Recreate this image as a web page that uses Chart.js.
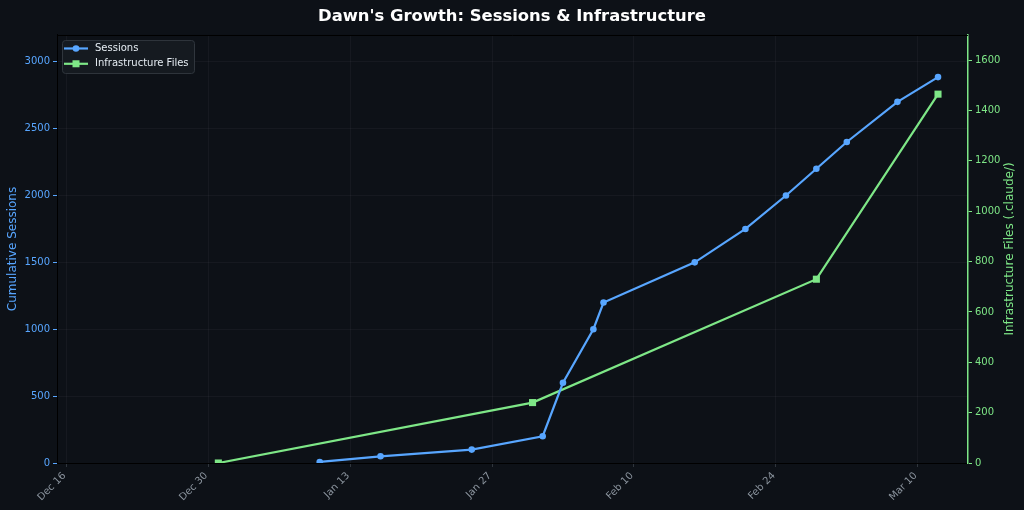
<!DOCTYPE html>
<html>
<head>
<meta charset="utf-8">
<script src="https://cdn.jsdelivr.net/npm/chart.js@4/dist/chart.umd.min.js"></script>
<style>
  html, body { margin: 0; padding: 0; background: #0d1117; }
  #wrap { width: 1024px; height: 510px; }
</style>
</head>
<body>
<div id="wrap"><canvas id="c" width="1024" height="510"></canvas></div>
<script>
// ---- data ----
const sessionDates = ['2026-01-10','2026-01-16','2026-01-25','2026-02-01','2026-02-03','2026-02-06','2026-02-07','2026-02-16','2026-02-21','2026-02-25','2026-02-28','2026-03-03','2026-03-08','2026-03-12'];
const sessionValues = [8, 50, 100, 200, 600, 1000, 1200, 1500, 1750, 2000, 2200, 2400, 2700, 2885];
const infraDates = ['2025-12-31','2026-01-31','2026-02-28','2026-03-12'];
const infraValues = [0, 240, 730, 1465];
const tickDates = ['2025-12-16','2025-12-30','2026-01-13','2026-01-27','2026-02-10','2026-02-24','2026-03-10'];
const tickLabels = ['Dec 16','Dec 30','Jan 13','Jan 27','Feb 10','Feb 24','Mar 10'];
const sessionTicks = [0, 500, 1000, 1500, 2000, 2500, 3000];
const infraTicks = [0, 200, 400, 600, 800, 1000, 1200, 1400, 1600];
const xRangeDates = ['2025-12-15T02:00','2026-03-14T23:00'];

// ---- helpers ----
const origin = Date.parse('2025-12-16T00:00:00Z');
function dayOf(s) {
  const iso = s.length === 10 ? s + 'T00:00:00Z' : s + ':00Z';
  return (Date.parse(iso) - origin) / 86400000;
}
const tickDays = tickDates.map(dayOf);

const BLUE = '#58a6ff';
const GREEN = '#7ee787';
const GRID = 'rgba(139,148,158,0.07)';
const FONT = "'DejaVu Sans', sans-serif";

Chart.defaults.font.family = FONT;

const extras = {
  id: 'extras',
  afterDraw(chart) {
    const {ctx, chartArea: a} = chart;
    ctx.save();
    // top spine
    ctx.strokeStyle = '#000000';
    ctx.lineWidth = 1;
    ctx.beginPath();
    ctx.moveTo(a.left, a.top + 0.5);
    ctx.lineTo(a.right, a.top + 0.5);
    ctx.stroke();
    // right axis title (reads bottom-to-top)
    ctx.translate(1010, (a.top + a.bottom) / 2);
    ctx.rotate(-Math.PI / 2);
    ctx.fillStyle = GREEN;
    ctx.font = "12px " + FONT;
    ctx.textAlign = 'center';
    ctx.textBaseline = 'middle';
    ctx.fillText('Infrastructure Files (.claude/)', 0, 0);
    ctx.restore();

    // legend
    const x0 = a.left + 5, y0 = a.top + 5, w = 132, h = 33;
    ctx.save();
    ctx.beginPath();
    if (ctx.roundRect) ctx.roundRect(x0 + 0.5, y0 + 0.5, w, h, 3); else ctx.rect(x0 + 0.5, y0 + 0.5, w, h);
    ctx.fillStyle = 'rgba(22,27,34,0.92)';
    ctx.fill();
    ctx.strokeStyle = '#30363d';
    ctx.lineWidth = 1;
    ctx.stroke();
    chart.data.datasets.forEach((ds, i) => {
      const y = y0 + 8.5 + i * 15.3;
      ctx.strokeStyle = ds.borderColor;
      ctx.lineWidth = 2.2;
      ctx.beginPath();
      ctx.moveTo(x0 + 2, y);
      ctx.lineTo(x0 + 26, y);
      ctx.stroke();
      ctx.fillStyle = ds.borderColor;
      if (ds.pointStyle === 'rect') {
        ctx.fillRect(x0 + 14 - 3.5, y - 3.5, 7, 7);
      } else {
        ctx.beginPath();
        ctx.arc(x0 + 14, y, 3.3, 0, Math.PI * 2);
        ctx.fill();
      }
      ctx.fillStyle = '#e6edf3';
      ctx.font = "10px " + FONT;
      ctx.textBaseline = 'middle';
      ctx.textAlign = 'left';
      ctx.fillText(ds.label, x0 + 33, y);
    });
    ctx.restore();
  }
};

new Chart(document.getElementById('c'), {
  type: 'line',
  data: {
    datasets: [
      {
        label: 'Sessions',
        data: sessionDates.map((d, i) => ({x: dayOf(d), y: sessionValues[i]})),
        borderColor: BLUE,
        backgroundColor: BLUE,
        borderWidth: 2.2,
        pointStyle: 'circle',
        pointRadius: 3.3,
        pointBorderWidth: 0,
        pointHoverRadius: 3.3,
        yAxisID: 'y',
        tension: 0
      },
      {
        label: 'Infrastructure Files',
        data: infraDates.map((d, i) => ({x: dayOf(d), y: infraValues[i]})),
        borderColor: GREEN,
        backgroundColor: GREEN,
        borderWidth: 2.2,
        pointStyle: 'rect',
        pointRadius: 5,
        pointBorderWidth: 0,
        pointHoverRadius: 5,
        yAxisID: 'y1',
        tension: 0
      }
    ]
  },
  options: {
    responsive: false,
    animation: false,
    devicePixelRatio: 1,
    layout: { padding: 0 },
    plugins: {
      legend: { display: false },
      tooltip: { enabled: false },
      title: {
        display: true,
        text: "Dawn's Growth: Sessions & Infrastructure",
        color: '#ffffff',
        font: { size: 16.4, weight: 'bold' },
        padding: { top: 7, bottom: 8.3 }
      }
    },
    scales: {
      x: {
        type: 'linear',
        min: dayOf(xRangeDates[0]),
        max: dayOf(xRangeDates[1]),
        afterBuildTicks(scale) { scale.ticks = tickDays.map(v => ({value: v})); },
        afterFit(scale) { scale.height = 47; },
        ticks: {
          autoSkip: false,
          minRotation: 45,
          maxRotation: 45,
          color: '#8b949e',
          font: { size: 10 },
          padding: 3,
          labelOffset: -2,
          callback(v) { const i = tickDays.indexOf(v); return i >= 0 ? tickLabels[i] : ''; }
        },
        grid: { color: GRID, tickColor: '#30363d', tickLength: 4, drawTicks: true },
        border: { display: true, color: '#000000', width: 1 }
      },
      y: {
        type: 'linear',
        position: 'left',
        min: 0,
        max: 3200,
        afterBuildTicks(scale) { scale.ticks = sessionTicks.map(v => ({value: v})); },
        afterFit(scale) { scale.width = 57; },
        ticks: { autoSkip: false, color: BLUE, font: { size: 10 }, padding: 3, callback: v => String(v) },
        grid: { color: GRID, tickColor: BLUE, tickLength: 4 },
        border: { display: true, color: '#000000', width: 1 },
        title: { display: true, text: 'Cumulative Sessions', color: BLUE, font: { size: 12 }, padding: { top: 6, bottom: 0 } }
      },
      y1: {
        type: 'linear',
        position: 'right',
        min: 0,
        max: 1700,
        afterBuildTicks(scale) { scale.ticks = infraTicks.map(v => ({value: v})); },
        afterFit(scale) { scale.width = 56; },
        ticks: { autoSkip: false, color: GREEN, font: { size: 10 }, padding: 3, callback: v => String(v) },
        grid: { drawOnChartArea: false, color: GREEN, tickColor: GREEN, tickLength: 4 },
        border: { display: true, color: GREEN, width: 1.5 }
      }
    }
  },
  plugins: [extras]
});
</script>
</body>
</html>
